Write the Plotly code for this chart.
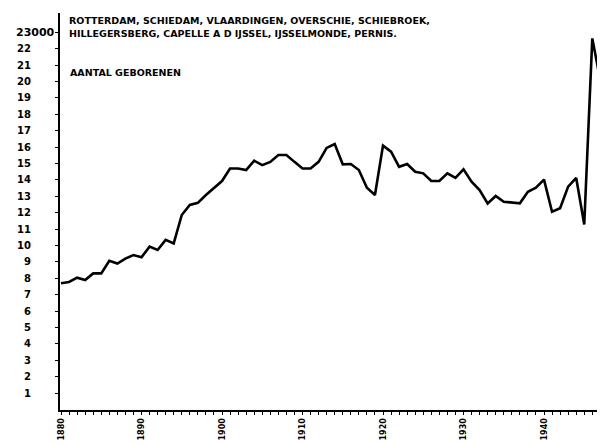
import plotly.graph_objects as go

years = list(range(1880, 1949))
births = [
    7.70, 7.78, 8.04, 7.90, 8.30, 8.30, 9.07, 8.90, 9.20, 9.42,   # 1880-1889
    9.28, 9.93, 9.73, 10.34, 10.13, 11.86, 12.47, 12.60, 13.08, 13.52,  # 1890-1899
    13.93, 14.70, 14.70, 14.60, 15.17, 14.90, 15.10, 15.52, 15.52, 15.10,  # 1900-1909
    14.70, 14.70, 15.10, 15.95, 16.19, 14.95, 14.97, 14.60, 13.52, 13.08,  # 1910-1919
    16.09, 15.72, 14.80, 14.97, 14.50, 14.40, 13.93, 13.93, 14.40, 14.13,  # 1920-1929
    14.65, 13.89, 13.38, 12.57, 13.02, 12.67, 12.63, 12.57, 13.28, 13.52,  # 1930-1939
    14.02, 12.06, 12.27, 13.59, 14.12, 11.28, 22.63, 20.05, 18.60,         # 1940-1948
]
x_tick_vals = [1880, 1890, 1900, 1910, 1920, 1930, 1940]
x_tick_text = ["1880", "1890", "1900", "1910", "1920", "1930", "1940"]
y_tick_vals = list(range(1, 24))
y_tick_text = [str(v) for v in range(1, 23)] + [""]
title_line1 = "ROTTERDAM, SCHIEDAM, VLAARDINGEN, OVERSCHIE, SCHIEBROEK,"
title_line2 = "HILLEGERSBERG, CAPELLE A D IJSSEL, IJSSELMONDE, PERNIS."
series_label = "AANTAL GEBORENEN"
top_label = "23000"

# page body has an 8px default margin; lay the figure out so it lands on the window
OFF = 8
W, H = 605 - OFF, 443 - OFF
PLOT_L, PLOT_R, PLOT_T, PLOT_B = 60, 605, 13, 410   # window pixels
ML, MR, MT = PLOT_L - OFF, 0, PLOT_T - OFF
MB = H - (PLOT_B - OFF)
PW, PH = W - ML - MR, H - MT - MB

def px(xw):
    return (xw - PLOT_L) / PW

def py(yw):
    return (PLOT_B - yw) / PH

FONT = "DejaVu Sans"

fig = go.Figure()
fig.add_trace(go.Scatter(
    x=years, y=births, mode="lines",
    line=dict(color="black", width=2.6),
    hoverinfo="skip", showlegend=False,
))

fig.update_layout(
    width=W, height=H,
    margin=dict(l=ML, r=MR, t=MT, b=MB, pad=0),
    paper_bgcolor="white", plot_bgcolor="white",
    showlegend=False,
    xaxis=dict(
        range=[1880 - 1 / 8.05, 1880 + (PW - 1) / 8.05],
        automargin=False,
        tickmode="array", tickvals=x_tick_vals, ticktext=x_tick_text,
        tickangle=-90,
        ticks="outside", ticklen=3, tickwidth=1, tickcolor="black",
        minor=dict(dtick=1, ticks="outside", ticklen=3, tickwidth=1, tickcolor="black"),
        tickfont=dict(family=FONT, size=8, color="black", weight="bold"),
        showline=True, linecolor="black", linewidth=2,
        showgrid=False, zeroline=False, fixedrange=True,
    ),
    yaxis=dict(
        range=[-0.03, PH / 16.4 - 0.03],
        automargin=False,
        tickmode="array", tickvals=y_tick_vals, ticktext=y_tick_text,
        ticks="outside", ticklen=3, tickwidth=1, tickcolor="black",
        ticklabelstandoff=22,
        tickfont=dict(family=FONT, size=10, color="black", weight="bold"),
        showline=True, linecolor="black", linewidth=2,
        showgrid=False, zeroline=False, fixedrange=True,
    ),
)

ann_font = dict(family=FONT, size=9.5, color="black", weight="bold")
fig.add_annotation(text=title_line1, xref="paper", yref="paper", x=px(67), y=py(20),
                   xanchor="left", yanchor="middle", showarrow=False, font=ann_font)
fig.add_annotation(text=title_line2, xref="paper", yref="paper", x=px(67), y=py(33),
                   xanchor="left", yanchor="middle", showarrow=False, font=ann_font)
fig.add_annotation(text=series_label, xref="paper", yref="paper", x=px(68), y=py(73),
                   xanchor="left", yanchor="middle", showarrow=False, font=ann_font)
fig.add_annotation(text=top_label, xref="paper", yref="y", x=px(14), y=23,
                   xanchor="left", yanchor="middle", showarrow=False,
                   font=dict(family=FONT, size=11, color="black", weight="bold"))

fig.write_html("out.html")
